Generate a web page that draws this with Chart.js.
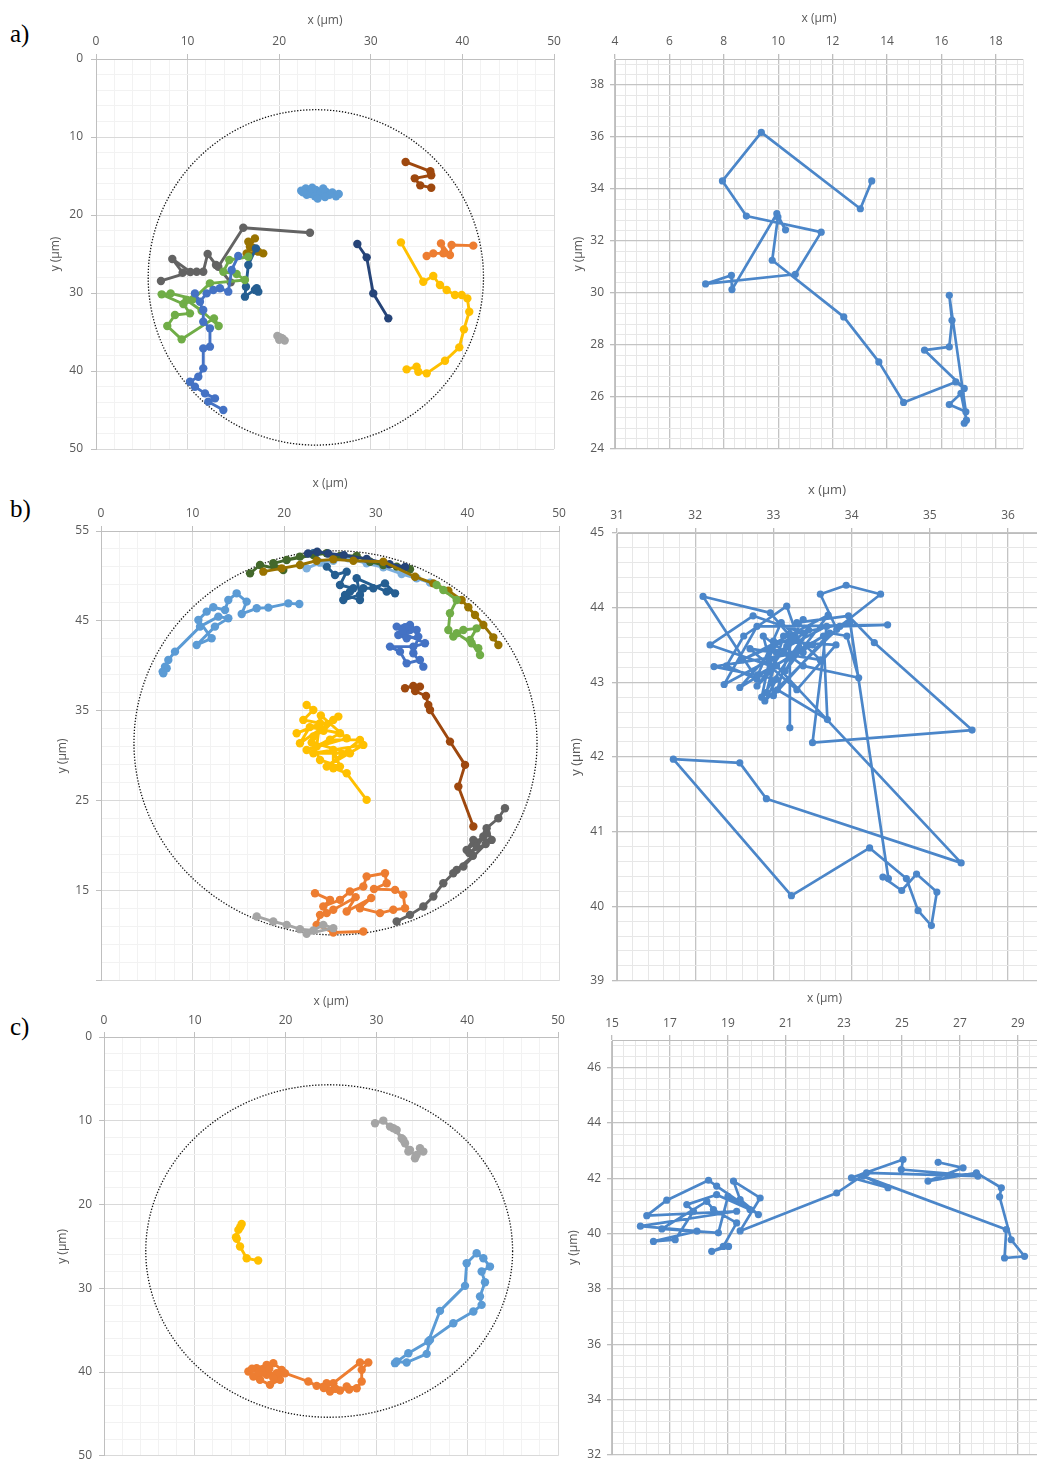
<!DOCTYPE html>
<html><head><meta charset="utf-8">
<script src="https://cdn.jsdelivr.net/npm/chart.js@4.4.1/dist/chart.umd.min.js"></script>
<style>
html,body{margin:0;padding:0;background:#fff;width:1037px;height:1461px;overflow:hidden;position:relative}
canvas{position:absolute}
.lab{position:absolute;font-family:"Liberation Serif","DejaVu Serif",serif;font-size:25px;color:#000;line-height:28px}
</style></head><body>
<div class="lab" style="left:10px;top:20px">a)</div>
<div class="lab" style="left:10px;top:495px">b)</div>
<div class="lab" style="left:10px;top:1013px">c)</div>
<canvas id="aL"></canvas><canvas id="aR"></canvas>
<canvas id="bL"></canvas><canvas id="bR"></canvas>
<canvas id="cL"></canvas><canvas id="cR"></canvas>
<script>
// ---------------- DATA ----------------
// circles: [centerX, centerY, radiusX, radiusY] in data units
const circleA = [24.0, 28.0, 18.3, 21.5];
const circleB = [25.6, 31.45, 22.0, 21.35];
const circleC = [24.8, 25.55, 20.2, 19.85];

// panel a) left
const aLightBlue = [[22.4,16.9],[22.9,16.6],[23.3,17.0],[23.6,16.5],[24.0,16.8],[23.4,17.3],[23.9,17.6],[24.5,17.2],[24.8,16.6],[25.1,17.0],[25.5,17.4],[25.8,17.1],[26.2,17.6],[26.5,17.3],[25.0,17.7],[24.2,17.9],[23.0,17.4],[22.6,17.1]];
const aBrown = [[33.8,13.2],[36.5,14.4],[36.6,14.9],[34.8,15.3],[35.4,16.2],[36.6,16.5]];
const aDarkGray = [[23.36,22.27],[16.08,21.63],[13.35,26.63],[14.70,28.64],[13.1,26.4],[12.19,25.0],[11.71,27.27],[10.99,27.27],[9.46,27.4],[8.33,25.64],[10.3,27.3],[7.09,28.46]];
const aOlive = [[16.63,23.42],[17.35,23.0],[16.8,24.06],[17.72,24.7],[18.26,24.92],[16.45,24.92],[17.1,24.2]];
const aDarkBlue = [[17.46,24.28],[16.63,26.41],[16.37,29.19],[16.26,30.47],[17.54,29.4],[17.72,29.83],[17.35,29.62]];
const aBlue = [[15.53,25.26],[14.81,27.05],[14.44,29.83],[13.53,29.4],[12.81,29.62],[12.08,30.05],[11.35,31.11],[10.80,30.05],[11.71,32.18],[11.71,33.68],[12.44,34.53],[12.44,36.88],[11.71,37.1],[11.71,39.66],[11.17,40.73],[10.26,41.37],[10.80,42.01],[11.9,42.87],[12.99,43.51],[12.26,43.93],[13.9,45.0]];
const aGreen = [[16.63,25.35],[14.55,25.77],[13.90,27.27],[15.35,27.57],[16.26,28.34],[12.44,28.76],[10.62,30.77],[8.15,30.05],[7.17,30.17],[9.53,31.41],[10.26,32.61],[8.62,32.82],[7.78,34.23],[9.35,35.94],[12.88,33.25],[13.39,34.23],[11.53,32.27],[9.89,30.9]];
const aGray = [[19.8,35.5],[20.1,35.7],[20.4,35.9],[20.6,36.1],[20.3,35.8],[20.0,36.0]];
const aNavy = [[28.53,23.72],[29.55,25.43],[30.27,30.05],[31.91,33.25]];
const aOrange = [[41.19,23.93],[38.82,23.85],[38.64,25.13],[37.66,23.64],[37.92,24.92],[36.82,24.92],[36.1,25.26]];
const aYellow = [[33.29,23.51],[35.73,28.55],[36.82,27.82],[37.55,28.98],[38.28,29.62],[39.19,30.26],[39.92,30.26],[40.54,30.69],[40.75,32.4],[40.17,34.66],[39.66,36.97],[38.1,38.68],[36.1,40.3],[35.19,40.09],[35.0,39.45],[33.91,39.79]];

// panel a) right
const aTrack = [[13.44,34.31],[13.02,33.24],[9.38,36.18],[7.95,34.31],[8.83,32.96],[11.58,32.34],[10.63,30.72],[7.33,30.35],[8.28,30.68],[8.30,30.13],[9.95,33.05],[10.27,32.43],[9.99,32.92],[9.78,31.26],[12.41,29.08],[13.70,27.35],[14.61,25.79],[16.53,26.58],[16.84,26.33],[15.38,27.80],[16.29,27.93],[16.39,28.95],[16.29,29.91],[16.90,25.43],[16.29,25.71],[16.72,26.14],[16.92,25.11],[16.84,24.99]];

// panel b) left
const bLightBlue = [[21.65,46.89],[20.45,46.96],[18.27,46.48],[17.0,46.41],[15.36,45.78],[15.90,47.15],[14.81,48.07],[13.90,47.33],[13.54,46.22],[12.26,46.52],[11.54,46.04],[10.63,45.11],[12.08,43.07],[10.44,42.33],[12.44,44.37],[13.90,45.30],[12.81,45.48],[10.81,44.37],[8.08,41.59],[7.35,40.66],[6.99,39.92],[6.80,39.18],[7.17,39.74],[6.73,39.37]];
const bOlive = [[17.72,50.48],[19.72,50.85],[21.72,51.22],[23.54,51.70],[25.36,51.85],[27.55,51.70],[30.82,51.59],[34.28,49.92],[36.28,49.18],[37.92,48.37],[39.37,47.33],[40.10,46.52],[40.83,45.66],[41.74,44.55],[42.83,43.18],[43.38,42.33]];
const bDarkGreen = [[16.27,50.29],[17.36,51.22],[19.90,50.66],[18.81,51.41],[21.72,52.15],[20.27,51.78],[23.18,52.33],[24.64,52.52],[26.09,52.22],[27.91,52.22],[29.37,51.59],[30.82,51.22],[32.28,51.04],[33.73,50.74]];
const bNavy = [[22.6,52.5],[23.6,52.7],[24.8,52.5],[26.5,52.3],[29.0,51.9],[31.5,51.3],[33.2,51.0]];
const bGreen = [[36.64,49.0],[37.37,48.44],[38.83,47.33],[38.10,45.85],[37.92,44.0],[38.46,43.26],[39.56,44.0],[41.01,44.18],[40.28,42.89],[41.19,41.96],[41.38,41.22],[40.46,42.52],[38.83,43.63]];
const bPaleBlue = [[22.45,50.85],[23.91,51.48],[25.36,51.70],[27.0,51.96],[29.0,51.41],[30.82,50.96],[32.82,50.22],[34.46,49.74],[35.92,49.26]];
const bDarkBlue = [[23.18,52.52],[24.64,51.04],[25.55,50.11],[26.82,50.48],[26.09,49.0],[27.55,48.63],[26.64,47.89],[28.27,47.33],[28.64,48.63],[29.73,48.63],[31.0,49.18],[32.10,48.07],[31.19,48.26],[27.91,49.74],[28.27,47.89],[26.45,47.33],[27.18,48.26]];
const bBlue = [[32.28,44.37],[33.73,44.55],[34.46,44.0],[33.0,43.63],[35.37,42.52],[34.10,42.15],[31.55,42.15],[32.64,41.59],[33.37,40.29],[34.82,40.66],[35.19,39.92],[34.10,41.41],[34.64,43.26],[33.37,43.07],[32.46,43.44],[33.73,44.0],[33.2,44.3],[32.9,43.9]];
const bBrown = [[33.19,37.52],[34.10,37.78],[34.82,37.70],[34.3,37.2],[35.48,36.66],[35.73,35.66],[35.92,35.11],[38.10,31.59],[39.74,29.0],[39.01,26.59],[40.65,22.15]];
const bYellow = [[22.45,35.66],[23.18,35.11],[22.09,34.0],[23.91,33.63],[21.36,32.52],[25.36,34.0],[23.18,32.15],[24.3,32.8],[25.91,34.37],[21.72,31.41],[22.8,33.2],[26.09,32.52],[23.54,31.04],[24.0,34.5],[26.82,31.96],[22.45,30.66],[25.0,31.8],[28.27,31.78],[24.64,28.81],[28.64,31.22],[23.18,30.29],[27.18,30.29],[23.0,31.5],[23.91,29.55],[26.09,28.81],[25.36,30.66],[25.36,28.63],[26.82,28.07],[29.0,25.11]];
const bDarkGray = [[44.10,24.18],[43.38,23.07],[42.10,21.96],[42.65,20.66],[40.65,20.66],[39.92,19.55],[41.74,21.04],[42.10,21.41],[41.01,19.92],[40.2,19.2],[42.0,20.2],[39.56,17.70],[38.83,17.33],[40.6,18.9],[38.46,16.96],[37.37,15.85],[36.28,14.37],[35.19,13.26],[33.73,12.33],[32.28,11.59]];
const bOrange = [[23.36,14.74],[25.0,14.0],[24.27,13.26],[26.09,14.0],[27.18,14.92],[28.64,15.48],[29.0,16.59],[31.0,16.96],[31.19,15.85],[29.8,15.2],[32.10,15.11],[33.0,14.55],[33.19,13.07],[31.91,12.89],[30.46,12.52],[28.27,13.07],[29.5,14.2],[26.82,12.70],[27.8,14.3],[25.36,12.89],[24.64,12.52],[23.91,12.33],[23.54,11.22],[25.36,10.37],[28.64,10.48]];
const bGray = [[17.0,12.15],[18.81,11.59],[20.27,11.22],[21.72,10.74],[23.18,10.59],[24.27,11.22],[25.36,10.85],[22.45,10.22]];

// panel b) right
const bTrack = [[33.21,42.39],[33.21,43.62],[32.96,43.93],[32.10,44.15],[32.79,43.04],[32.40,43.22],[32.62,43.62],[33.17,44.02],[33.38,43.40],[32.24,43.21],[33.04,43.04],[32.89,42.75],[33.81,43.71],[33.60,44.18],[33.93,44.30],[34.37,44.18],[33.85,43.75],[34.46,43.77],[32.79,43.75],[32.37,42.97],[33.13,43.40],[33.38,43.66],[32.74,43.89],[32.19,43.50],[32.96,43.22],[33.0,42.82],[33.72,43.66],[33.94,43.62],[34.09,43.06],[33.38,43.22],[32.87,43.62],
  [32.95,43.3],[33.5,43.5],[32.8,43.1],[33.1,43.8],[33.6,43.3],[32.7,43.45],[33.3,42.9],[33.8,43.5],[33.0,43.55],[32.85,42.8],[33.45,43.7],[33.15,43.15],[33.7,43.9],[32.6,43.3],[33.25,43.6],[33.05,42.9],
  [33.69,42.50],[33.64,43.62],[32.57,42.93],[33.30,43.80],[33.96,43.89],[34.29,43.53],[35.54,42.36],[33.50,42.19],[33.68,43.75],[33.04,43.40],[32.91,42.86],[33.13,43.62],[33.98,43.80],[34.47,40.37],[34.40,40.39],[34.64,40.21],[34.83,40.43],[35.09,40.19],[35.02,39.74],[34.85,39.94],[34.70,40.37],[34.23,40.78],[33.23,40.14],[31.72,41.97],[32.57,41.92],[32.91,41.44],[35.40,40.58],[33.04,43.22],[32.79,42.95],[33.17,43.48],[33.38,43.84]];

// panel c) left
const cGray = [[29.85,10.30],[30.76,9.98],[31.50,10.70],[32.23,11.10],[32.78,12.09],[33.15,12.69],[33.70,13.48],[34.25,14.48],[34.80,13.29],[35.17,13.68],[34.43,14.08],[33.52,13.68],[32.97,12.29],[31.87,10.90]];
const cYellow = [[15.16,22.32],[15.0,22.7],[14.80,23.03],[14.54,23.91],[14.62,24.1],[14.98,25.02],[15.71,26.41],[16.98,26.69]];
const cBlue = [[32.05,38.94],[33.52,37.75],[35.72,36.36],[37.00,32.70],[39.76,29.71],[39.94,27.01],[41.04,25.82],[41.78,26.41],[42.51,27.41],[41.59,28.00],[41.96,29.28],[41.41,30.99],[41.59,31.98],[40.68,32.78],[38.47,34.17],[35.90,36.16],[35.54,37.83],[33.33,38.86],[32.23,38.74]];
const cOrange = [[15.90,39.94],[16.81,39.54],[17.92,39.14],[18.65,38.94],[19.57,39.74],[19.38,40.93],[18.28,41.53],[17.18,40.93],[16.45,40.53],[17.92,40.33],[19.02,40.14],[18.65,40.73],[17.55,39.94],[16.3,39.6],[18.2,39.6],[17.0,40.1],[19.93,40.14],[22.50,41.13],[23.42,41.65],[24.52,41.33],[24.89,42.32],[25.99,42.20],[26.73,41.73],[27.83,41.93],[28.38,41.13],[28.38,39.74],[29.11,38.86],[28.19,38.86],[25.26,41.33],[24.2,41.9],[25.5,42.0],[27.0,42.1]];

// panel c) right
const cTrack = [[26.25,42.58],[27.11,42.38],[25.90,41.90],[27.57,42.20],[28.43,41.66],[28.37,41.33],[28.77,39.78],[29.23,39.18],[28.54,39.12],[28.60,40.15],[23.66,42.08],[24.52,41.66],[23.26,42.02],[25.04,42.68],[24.98,42.32],[27.62,42.08],[23.78,42.20],[22.75,41.47],[19.42,40.10],[20.11,41.29],[19.19,41.90],[19.42,41.23],[20.05,40.69],[18.61,41.72],[18.33,41.93],[16.89,41.21],[16.20,40.65],[19.30,40.81],[15.98,40.27],[17.93,40.09],[16.43,39.72],[17.18,39.78],[17.81,40.81],[17.58,41.05],[18.61,41.41],[19.76,40.87],[19.00,41.35],[18.67,40.03],[16.72,40.17],[18.27,41.17],[18.50,40.87],[19.30,40.39],[18.84,39.54],[18.44,39.36],[19.02,39.54]];

// ---------------- RENDERING ----------------
const GL = {major:'#D9D9D9', minor:'#F2F2F2', border:'#BFBFBF', mw:1};
const GR = {major:'#C4C4C4', minor:'#E7E7E7', border:'#BDBDBD', mw:1.3};

const circlePlugin = {
  id:'circle',
  beforeDatasetsDraw(chart, args, opts){
    if(!opts || !opts.c) return;
    const [cx,cy,rx,ry] = opts.c;
    const xs = chart.scales.x, ys = chart.scales.y;
    const px = xs.getPixelForValue(cx), py = ys.getPixelForValue(cy);
    const prx = Math.abs(xs.getPixelForValue(cx+rx)-px), pry = Math.abs(ys.getPixelForValue(cy+ry)-py);
    const ctx = chart.ctx;
    ctx.save(); ctx.setLineDash([1.3,1.7]); ctx.lineWidth = 1.3; ctx.strokeStyle = '#111';
    ctx.beginPath(); ctx.ellipse(px,py,prx,pry,0,0,Math.PI*2); ctx.stroke(); ctx.restore();
  }
};

function mkAxis(id, o){
  const maj = v => { const q = (v - o.base)/o.major; return Math.abs(q - Math.round(q)) < 1e-6; };
  return {
    type:'linear', position: id==='x' ? 'top' : 'left', min:o.min, max:o.max, reverse:!!o.reverse,
    afterFit: s => { if(id==='x') s.height = o.size; else s.width = o.size; },
    afterBuildTicks: s => {
      const t = [];
      const n = Math.floor((o.max - o.min)/o.step + 1e-6);
      for (let i = 0; i <= n; i++) t.push({value: +(o.min + i*o.step).toFixed(4)});
      if (t[t.length-1].value < o.max - 1e-6) t.push({value:o.max});
      s.ticks = t;
    },
    border:{display:true, color:o.g.border, width:1},
    grid:{
      color: c => (c.tick && maj(c.tick.value)) ? o.g.major : o.g.minor,
      lineWidth: c => (c.tick && maj(c.tick.value)) ? o.g.mw : 1,
      drawTicks:true, tickLength:5,
      tickColor: c => (c.tick && maj(c.tick.value)) ? o.g.border : 'rgba(0,0,0,0)'
    },
    ticks:{
      autoSkip:false, maxRotation:0, minRotation:0, padding:o.pad,
      color:'#595959', font:{family:o.fam, size:o.fs||12},
      callback: v => (maj(v) && !(o.hide||[]).includes(Math.round(v))) ? String(Math.round(v)) : ''
    },
    title:{display:true, text:o.title, color:'#595959', font:{family:o.fam, size:o.ts||12}, padding:{top:2, bottom:0}}
  };
}

function toPts(arr){ return arr.map(p => ({x:p[0], y:p[1]})); }

function ds(arr, color, r, w){
  return {data:toPts(arr), showLine:true, borderColor:color, backgroundColor:color,
    pointBackgroundColor:color, pointBorderColor:color, pointBorderWidth:0,
    pointRadius:r, pointHoverRadius:r, borderWidth:w, tension:0,
    borderJoinStyle:'round', borderCapStyle:'round'};
}

function makeChart(id, box, xo, yo, datasets, circle){
  const cv = document.getElementById(id);
  const W = box.R - box.L, H = box.B - box.T;
  cv.width = W; cv.height = H;
  cv.style.left = box.L + 'px'; cv.style.top = box.T + 'px';
  cv.style.width = W + 'px'; cv.style.height = H + 'px';
  xo.size = box.t - box.T; yo.size = box.l - box.L;
  new Chart(cv, {
    type:'scatter',
    data:{datasets},
    options:{
      responsive:false, animation:false, devicePixelRatio:1,
      layout:{padding:{left:0, top:0, right:box.R - box.r, bottom:box.B - box.b}},
      plugins:{legend:{display:false}, tooltip:{enabled:false}, circle:{c:circle}},
      events:[],
      scales:{x:mkAxis('x', xo), y:mkAxis('y', yo)}
    },
    plugins:[circlePlugin]
  });
}

const FL = '"Open Sans","DejaVu Sans",sans-serif';
const FR = '"Open Sans","Liberation Sans",sans-serif';
const PR = 4.2, LW = 2.9;
const TR = 3.6, TW = 2.7, TC = '#4B86C9';

// a) left
makeChart('aL', {L:46,T:11,R:568,B:466,l:96,t:59,r:554,b:449},
  {min:0,max:50,step:2,base:0,major:10,g:GL,pad:5,fam:FL,title:'x (µm)'},
  {min:0,max:50,step:2,base:0,major:10,g:GL,pad:8,fam:FL,title:'y (µm)',reverse:true},
  [ds(aLightBlue,'#5B9BD5',PR,LW), ds(aBrown,'#9E480E',PR,LW), ds(aGray,'#A5A5A5',PR,LW),
   ds(aYellow,'#FFC000',PR,LW), ds(aOrange,'#ED7D31',PR,LW), ds(aNavy,'#264478',PR,LW),
   ds(aBlue,'#4472C4',PR,LW), ds(aGreen,'#70AD47',PR,LW), ds(aDarkBlue,'#255E91',PR,LW),
   ds(aDarkGray,'#636363',PR,LW), ds(aOlive,'#997300',PR,LW)], circleA);

// a) right
makeChart('aR', {L:569,T:9,R:1037,B:466,l:615,t:59,r:1023,b:449},
  {min:4,max:19,step:0.4,base:4,major:2,g:GR,pad:5,fam:FR,title:'x (µm)'},
  {min:24,max:39,step:0.4,base:24,major:2,g:GR,pad:6,fam:FR,title:'y (µm)'},
  [ds(aTrack,TC,TR,TW)], null);

// b) left
makeChart('bL', {L:53,T:474,R:572,B:995,l:101,t:531,r:559,b:981},
  {min:0,max:50,step:2,base:0,major:10,g:GL,pad:5,fam:FL,title:'x (µm)'},
  {min:5,max:55,step:2,base:5,major:10,g:GL,pad:7,fam:FL,title:'y (µm)',hide:[5]},
  [ds(bGray,'#A5A5A5',PR,LW), ds(bOrange,'#ED7D31',PR,LW), ds(bDarkGray,'#636363',PR,LW),
   ds(bBrown,'#9E480E',PR,LW), ds(bYellow,'#FFC000',PR,LW), ds(bBlue,'#4472C4',PR,LW),
   ds(bLightBlue,'#5B9BD5',PR,LW), ds(bGreen,'#70AD47',PR,LW), ds(bOlive,'#997300',PR,LW),
   ds(bNavy,'#264478',PR,LW), ds(bDarkGreen,'#43682B',PR,LW), ds(bPaleBlue,'#7CAFDD',PR,LW),
   ds(bDarkBlue,'#255E91',PR,LW)], circleB);

// b) right
makeChart('bR', {L:566,T:480,R:1050,B:996,l:617,t:533,r:1037,b:982},
  {min:31,max:36.37,step:0.2,base:31,major:1,g:GR,pad:5,fam:FR,title:'x (µm)',ts:13},
  {min:39,max:45,step:0.2,base:39,major:1,g:GR,pad:8,fam:FR,title:'y (µm)',ts:13},
  [ds(bTrack,TC,TR,TW)], null);

// c) left
makeChart('cL', {L:53,T:992,R:572,B:1470,l:104,t:1037,r:558,b:1456},
  {min:0,max:50,step:2,base:0,major:10,g:GL,pad:4,fam:FL,title:'x (µm)'},
  {min:0,max:50,step:2,base:0,major:10,g:GL,pad:7,fam:FL,title:'y (µm)',reverse:true},
  [ds(cGray,'#A5A5A5',PR,LW), ds(cYellow,'#FFC000',PR,LW), ds(cBlue,'#5B9BD5',PR,LW),
   ds(cOrange,'#ED7D31',PR,LW)], circleC);

// c) right
makeChart('cR', {L:564,T:989,R:1050,B:1469,l:612,t:1040,r:1037,b:1455},
  {min:15,max:29.66,step:0.4,base:15,major:2,g:GR,pad:4,fam:FR,title:'x (µm)'},
  {min:32,max:47,step:0.4,base:32,major:2,g:GR,pad:6,fam:FR,title:'y (µm)'},
  [ds(cTrack,TC,TR,TW)], null);
</script>
</body></html>
